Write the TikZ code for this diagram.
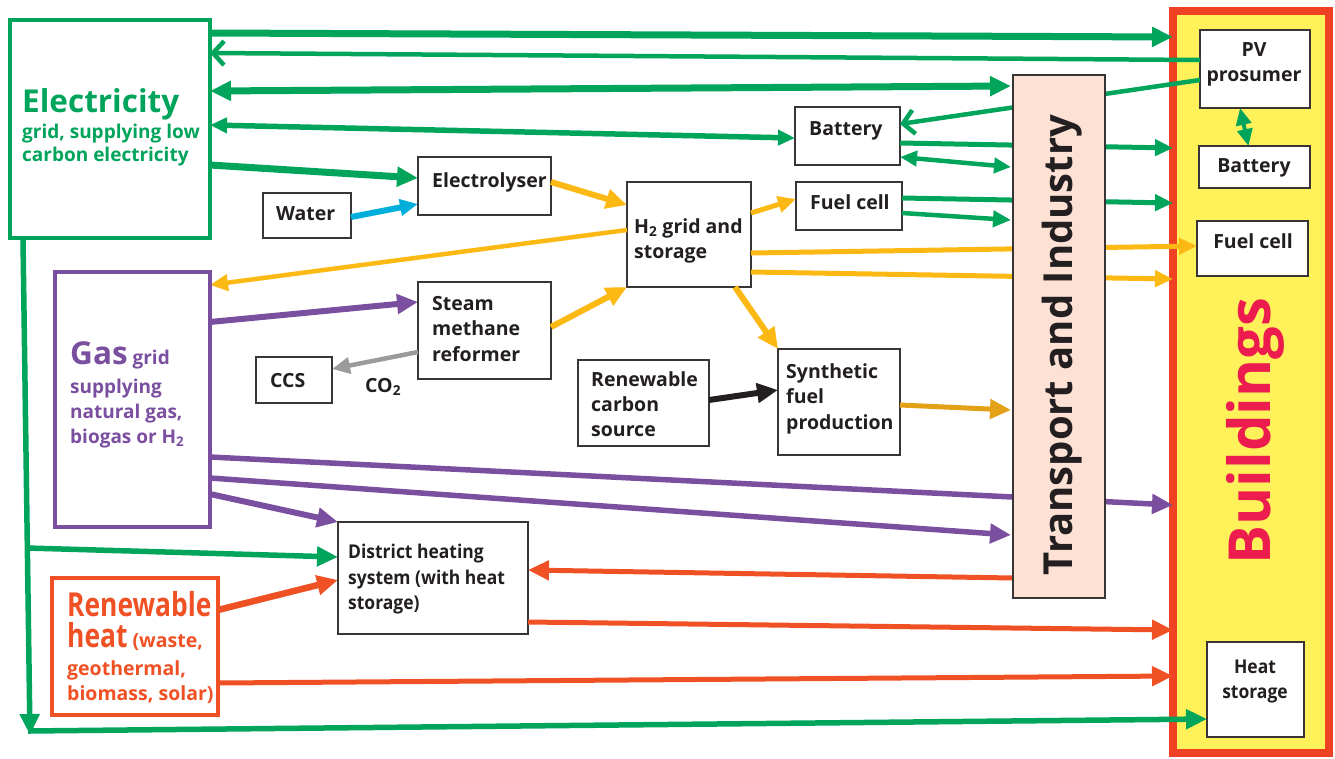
\documentclass[tikz,border=0pt]{standalone}
\usepackage{fontspec}
\setmainfont{Open Sans}
\newfontfamily\condA{Open Sans}[FakeStretch=0.80]
\newfontfamily\condB{Open Sans}[FakeStretch=0.92]
\usetikzlibrary{arrows.meta,calc}
\definecolor{cg}{HTML}{00A45A}
\definecolor{cp}{HTML}{7B4FA0}
\definecolor{cy}{HTML}{FDB913}
\definecolor{cgold}{HTML}{E3A117}
\definecolor{co}{HTML}{F05124}
\definecolor{cb}{HTML}{00AEDB}
\definecolor{cgr}{HTML}{9A9B9D}
\definecolor{ctr}{HTML}{FDE1D5}
\definecolor{cbf}{HTML}{FFF159}
\definecolor{cbr}{HTML}{EF4123}
\definecolor{cbt}{HTML}{EC1C4E}
\definecolor{ctx}{HTML}{231F20}
\begin{document}
\begin{tikzpicture}[x=1pt,y=-1pt,font=\bfseries,
  box/.style={draw=ctx!90,line width=1.6pt,fill=white,inner sep=0pt,outer sep=0pt,anchor=north west},
  gbox/.style={line width=4.5pt,fill=white,inner sep=0pt,outer sep=0pt,anchor=north west},
  tl/.style={anchor=base west,inner sep=0pt,text=ctx},
  tc/.style={anchor=base,inner sep=0pt,text=ctx},
  fb/.style={font=\bfseries\fontsize{19.5}{24}\selectfont},
  fs/.style={font=\bfseries\fontsize{19}{24}\selectfont},
  fl/.style={font=\bfseries\fontsize{31.5}{38}\selectfont},
  fd/.style={font=\condB\bfseries\fontsize{19}{23}\selectfont},
  tipL/.style={-{Triangle[length=21pt,width=19pt]}},
  tipM/.style={-{Triangle[length=18pt,width=16pt]}},
  dblL/.style={{Triangle[length=21pt,width=19pt]}-{Triangle[length=21pt,width=19pt]}},
  dblM/.style={{Triangle[length=17pt,width=15pt]}-{Triangle[length=17pt,width=15pt]}},
  barb/.style={-{Straight Barb[length=11pt,width=24pt]}},
]
\useasboundingbox (0,0) rectangle (1335,758);

% Buildings
\node[anchor=north west,draw=cbr,fill=cbf,line width=8pt,inner sep=0pt,outer sep=0pt,
  minimum width=156pt,minimum height=742pt] (bld) at (1173,11) {};

% boxes
\node[gbox,draw=cg,minimum width=200pt,minimum height=218pt] (elec) at (10,20) {};
\node[gbox,draw=cp,minimum width=155pt,minimum height=255pt] (gas) at (55,272) {};
\node[gbox,draw=co,minimum width=166pt,minimum height=137pt] (rheat) at (52,578) {};
\node[box,minimum width=88pt,minimum height=45pt] (water) at (263,193) {};
\node[box,minimum width=133pt,minimum height=58pt] (ely) at (418,157) {};
\node[box,minimum width=124pt,minimum height=105pt] (h2) at (627,182) {};
\node[box,minimum width=133pt,minimum height=97pt] (smr) at (418,282) {};
\node[box,minimum width=76pt,minimum height=46pt] (ccs) at (256,357) {};
\node[box,minimum width=131pt,minimum height=86pt] (rcs) at (578,360) {};
\node[box,minimum width=122pt,minimum height=106pt] (syn) at (778,349) {};
\node[box,minimum width=105pt,minimum height=58pt] (batm) at (795,107) {};
\node[box,minimum width=106pt,minimum height=48pt] (fcm) at (796,182) {};
\node[box,minimum width=190pt,minimum height=112pt] (dh) at (338,522) {};
\node[box,minimum width=110pt,minimum height=78pt] (pv) at (1200,30) {};
\node[box,minimum width=111pt,minimum height=42pt] (batr) at (1199,146) {};
\node[box,minimum width=111pt,minimum height=55pt] (fcr) at (1197,221) {};
\node[box,minimum width=97pt,minimum height=95pt] (hs) at (1207,642) {};

\coordinate (vtop) at (23,240);
\coordinate (vbot) at (30,735);
\coordinate (vmid) at (27,548);
\coordinate (hstart) at (28,731);

% green connectors
\draw[cg,line width=7pt,tipL] (elec.east |- 0,33) -- (bld.west |- 0,37);
\draw[cg,line width=4.5pt,barb] (pv.west |- 0,60) -- (elec.east |- 0,53);
\draw[cg,line width=7pt,dblL] (elec.east |- 0,91) -- (1011,86);
\draw[cg,line width=5.5pt,dblM] (elec.east |- 0,125) -- (batm.west |- 0,138);
\draw[cg,line width=7pt,tipL] (elec.east |- 0,165) -- (ely.west |- 0,178);
\draw[cg,line width=4.5pt,barb] (pv.west |- 0,80) -- (batm.east |- 0,124);
\draw[cg,line width=5pt,tipM] (batm.east |- 0,143) -- (bld.west |- 0,148);
\draw[cg,line width=4.5pt,dblM] (batm.east |- 0,157) -- (1011,167);
\draw[cg,line width=5pt,tipM] (fcm.east |- 0,198) -- (bld.west |- 0,203);
\draw[cg,line width=4.5pt,tipM] (fcm.east |- 0,213) -- (1011,220);
\draw[cg,line width=4pt,dblM] ([xshift=-15pt]pv.south) -- ([xshift=-6pt]batr.north);
\draw[cg,line width=5.5pt,tipL] (vtop) -- (vbot);
\draw[cg,line width=5.5pt,tipL] (vmid) -- (dh.west |- 0,557);
\draw[cg,line width=5.5pt,tipL] (hstart) -- (hs.west |- 0,719);

% blue, yellow, grey, black
\draw[cb,line width=6pt,tipM] (water.east |- 0,217) -- (ely.west |- 0,204);
\draw[cy,line width=6pt,tipL] (ely.east |- 0,182) -- (h2.west |- 0,205);
\draw[cy,line width=5pt,tipM] (h2.east |- 0,213) -- (fcm.west |- 0,199);
\draw[cy,line width=4.5pt,tipM] (h2.west |- 0,230) -- (gas.east |- 0,285);
\draw[cy,line width=6pt,tipL] (smr.east |- 0,327) -- (h2.south west);
\draw[cy,line width=6pt,tipL] ([xshift=-16pt]h2.south east) -- (syn.north west);
\draw[cy,line width=5pt,tipM] (h2.east |- 0,253) -- (fcr.west |- 0,246);
\draw[cy,line width=5pt,tipM] (h2.east |- 0,272) -- (bld.west |- 0,279);
\draw[cgr,line width=4.5pt,tipM] (smr.west |- 0,352) -- (ccs.east |- 0,369);
\draw[ctx,line width=6pt,tipL] (rcs.east |- 0,400) -- (syn.west |- 0,390);
\draw[cgold,line width=5pt,tipL] (syn.east |- 0,405) -- (1011,410);

% purple
\draw[cp,line width=6pt,tipL] (gas.east |- 0,322) -- (smr.west |- 0,302);
\draw[cp,line width=5.5pt,tipL] (gas.east |- 0,457) -- (bld.west |- 0,505);
\draw[cp,line width=5.5pt,tipL] (gas.east |- 0,478) -- (1011,535);
\draw[cp,line width=6pt,tipL] (gas.east |- 0,494) -- (dh.north west);

% orange
\draw[co,line width=6.5pt,tipL] (rheat.east |- 0,610) -- (dh.west |- 0,580);
\draw[co,line width=5pt,tipL] (1013,578) -- (dh.east |- 0,570);
\draw[co,line width=5pt,tipL] (dh.east |- 0,622) -- (bld.west |- 0,630);
\draw[co,line width=5pt,tipL] (rheat.east |- 0,683) -- (bld.west |- 0,676);

% Transport and Industry
\node[anchor=north west,draw=ctx!90,fill=ctr,line width=1.6pt,inner sep=0pt,outer sep=0pt,
  minimum width=92pt,minimum height=523pt] (trans) at (1013,75) {};
\node[rotate=90,inner sep=0pt,text=ctx,font=\bfseries\fontsize{40}{46}\selectfont] (transT) at (1062,345) {Transport and Industry};

% redraw coloured borders over line ends
\node[gbox,draw=cg,fill=none,minimum width=200pt,minimum height=218pt] (elecB) at (10,20) {};
\node[gbox,draw=cp,fill=none,minimum width=155pt,minimum height=255pt] (gasB) at (55,272) {};

% texts
\node[tl,fl,text=cg] (e1) at (22,112) {Electricity};
\node[tl,fs,text=cg] (e2) at (22,138) {grid, supplying low};
\node[tl,fs,text=cg] (e3) at (22,161) {carbon electricity};

\node[tl,text=cp,font=\bfseries] (g1) at (70,364) {\fontsize{31.5}{38}\selectfont Gas\fontsize{19}{24}\selectfont\ grid};
\node[tl,fs,text=cp] (g2) at (70,393) {supplying};
\node[tl,fs,text=cp] (g3) at (70,418) {natural gas,};
\node[tl,fs,text=cp] (g4) at (70,443) {biogas or H\textsubscript{2}};

\node[tl,text=co,font=\condA\bfseries\fontsize{33}{38}\selectfont] (r1) at (67,616) {Renewable};
\node[tl,text=co,font=\bfseries] (r2) at (67,647) {{\condA\fontsize{33}{38}\selectfont heat}\fontsize{19.5}{24}\selectfont\ (waste,};
\node[tl,text=co,font=\bfseries\fontsize{19.5}{24}\selectfont] (r3) at (67,675) {geothermal,};
\node[tl,text=co,font=\bfseries\fontsize{19.5}{24}\selectfont] (r4) at (67,700) {biomass, solar)};

\node[tl,fb] (wt) at (276,220) {Water};
\node[tl,fb] (elyt) at (432,187) {Electrolyser};
\node[tl,fb] (h2a) at (634,233) {H\textsubscript{2} grid and};
\node[tl,fb] (h2b) at (634,258) {storage};
\node[tl,fb] (s1) at (432,310) {Steam};
\node[tl,fb] (s2) at (432,335) {methane};
\node[tl,fb] (s3) at (432,361) {reformer};
\node[tl,fb] (ccst) at (270,387) {CCS};
\node[tl,fb] (co2) at (365,392) {CO\textsubscript{2}};
\node[tl,fb] (rc1) at (591,386) {Renewable};
\node[tl,fb] (rc2) at (591,411) {carbon};
\node[tl,fb] (rc3) at (591,436) {source};
\node[tl,fb] (sy1) at (786,378) {Synthetic};
\node[tl,fb] (sy2) at (786,403) {fuel};
\node[tl,fb] (sy3) at (786,429) {production};
\node[tl,fb] (bmt) at (809,135) {Battery};
\node[tl,fb] (fmt) at (810,209) {Fuel cell};
\node[tl,fd] (d1) at (348,558) {District heating};
\node[tl,fd] (d2) at (348,584) {system (with heat};
\node[tl,fd] (d3) at (348,609) {storage)};

\node[tc,fb] (pv1) at (1254,56) {PV};
\node[tc,fb] (pv2) at (1254,81) {prosumer};
\node[tc,fb] (brt) at (1254,172) {Battery};
\node[tc,fb] (frt) at (1253,248) {Fuel cell};
\node[tc,fd] (hs1) at (1255,673) {Heat};
\node[tc,fd] (hs2) at (1255,698) {storage};

\node[rotate=90,inner sep=0pt,text=cbt,font=\bfseries\fontsize{58}{64}\selectfont] (bldT) at (1255,431) {Buildings};
\end{tikzpicture}
\end{document}
